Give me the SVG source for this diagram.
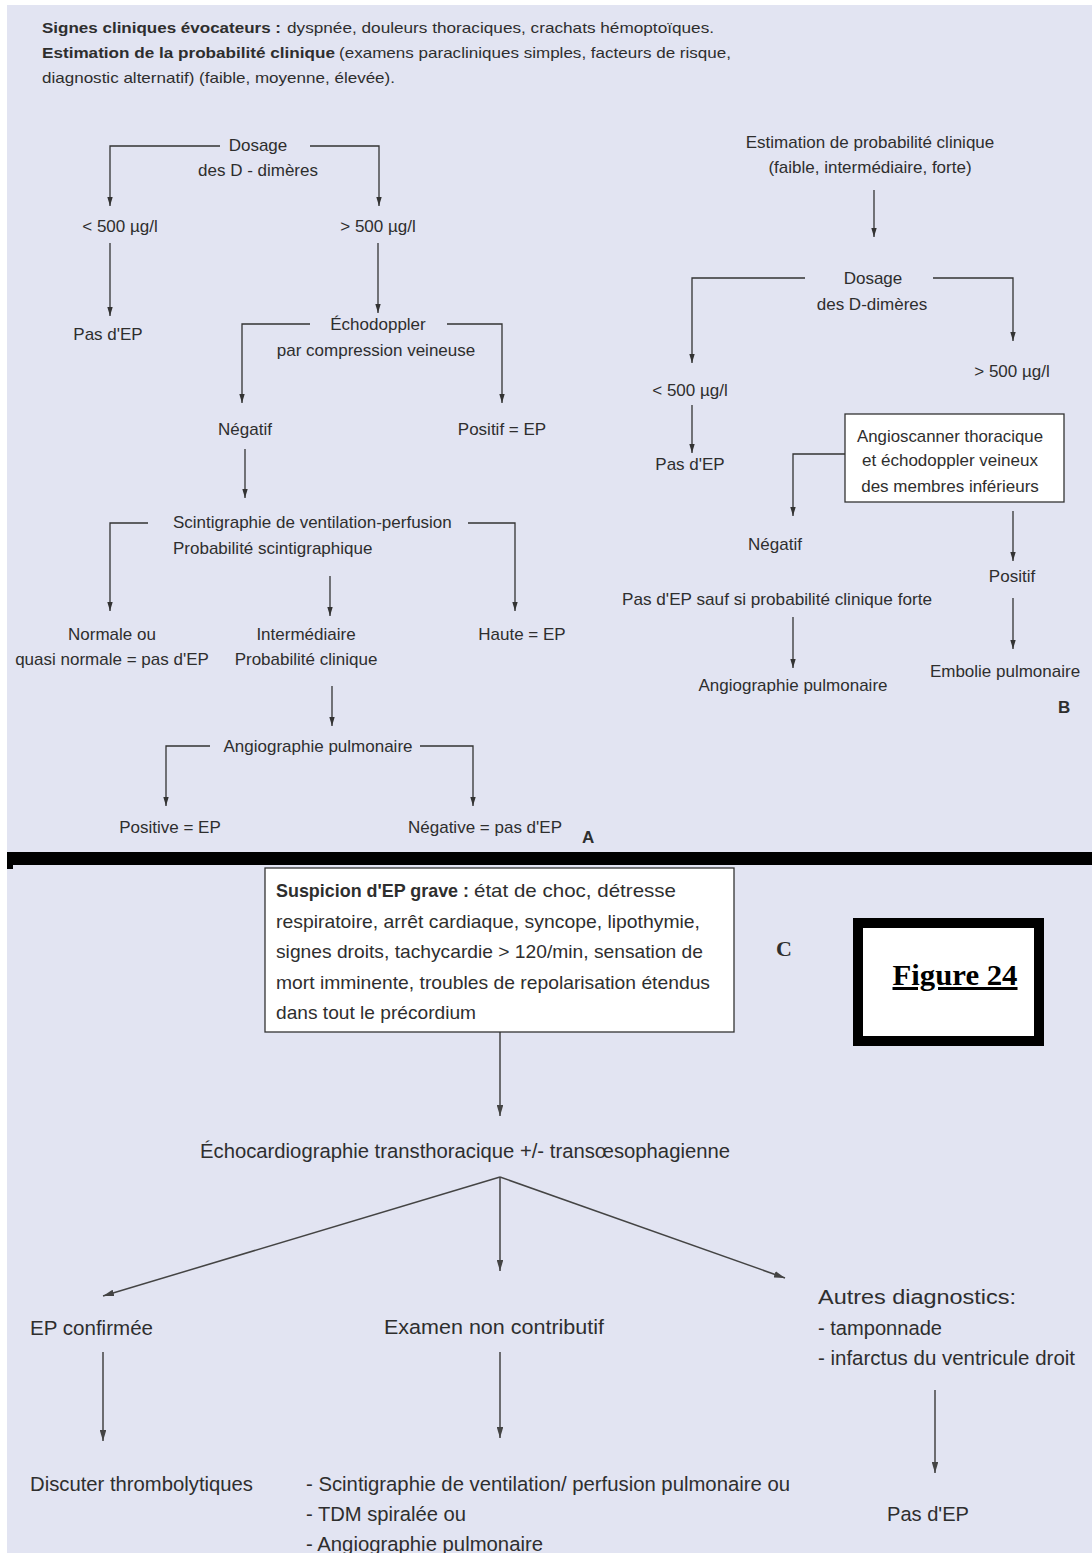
<svg xmlns="http://www.w3.org/2000/svg" width="1092" height="1553" viewBox="0 0 1092 1553">
<defs>
<marker id="ah" viewBox="0 0 10 6" refX="10" refY="3" markerWidth="9" markerHeight="5.4" orient="auto" markerUnits="userSpaceOnUse">
<path d="M0,0 L10,3 L0,6 z" fill="#333"/>
</marker>
<marker id="ah2" viewBox="0 0 10 6" refX="10" refY="3" markerWidth="11" markerHeight="6.6" orient="auto" markerUnits="userSpaceOnUse">
<path d="M0,0 L10,3 L0,6 z" fill="#444"/>
</marker>
</defs>
<style>
text{font-family:"Liberation Sans",Arial,sans-serif;fill:#2e2e2e}
.i{font-size:15px}
.t{font-size:17px}
.tc{font-size:17px;text-anchor:middle}
.b{font-weight:bold}
.c{font-size:19px}
.cb{font-size:20.5px}
.cm{font-size:20.5px;text-anchor:middle}
.ln{fill:none;stroke:#333;stroke-width:1.3}
.la{fill:none;stroke:#333;stroke-width:1.3;marker-end:url(#ah)}
.lc{fill:none;stroke:#444;stroke-width:1.5;marker-end:url(#ah2)}
</style>
<rect x="0" y="0" width="1092" height="1553" fill="#ffffff"/>
<rect x="7" y="5" width="1085" height="1548" fill="#e2e4f2"/>

<g id="intro">
<text class="i b" x="42" y="33" textLength="239" lengthAdjust="spacingAndGlyphs">Signes cliniques évocateurs :</text>
<text class="i" x="287" y="33" textLength="427" lengthAdjust="spacingAndGlyphs">dyspnée, douleurs  thoraciques, crachats hémoptoïques.</text>
<text class="i b" x="42" y="58" textLength="293" lengthAdjust="spacingAndGlyphs">Estimation de la probabilité clinique</text>
<text class="i" x="339" y="58" textLength="392" lengthAdjust="spacingAndGlyphs">(examens paracliniques simples, facteurs de risque,</text>
<text class="i" x="42" y="83" textLength="353" lengthAdjust="spacingAndGlyphs">diagnostic alternatif) (faible, moyenne, élevée).</text>
</g>

<g id="connectors">
<!-- Panel A -->
<path class="la" d="M220,146 H110 V206"/>
<path class="la" d="M310,146 H379 V206"/>
<path class="la" d="M110,243 V316"/>
<path class="la" d="M378,243 V313"/>
<path class="la" d="M310,324 H242 V403"/>
<path class="la" d="M447,324 H502 V403"/>
<path class="la" d="M245,449 V498"/>
<path class="la" d="M148,523 H110 V611"/>
<path class="la" d="M468,523 H515 V611"/>
<path class="la" d="M330,576 V616"/>
<path class="la" d="M332,686 V726"/>
<path class="la" d="M210,746 H166 V806"/>
<path class="la" d="M420,746 H473 V806"/>
<!-- Panel B -->
<path class="la" d="M874,190 V237"/>
<path class="la" d="M805,278 H692 V363"/>
<path class="la" d="M933,278 H1013 V341"/>
<path class="la" d="M692,405 V453"/>
<path class="la" d="M845,454 H793 V516"/>
<path class="la" d="M1013,511 V561"/>
<path class="la" d="M793,617 V668"/>
<path class="la" d="M1013,598 V649"/>
<!-- Panel C -->
<path class="lc" d="M500,1032 V1116"/>
<path class="lc" d="M500,1177 L103,1296"/>
<path class="lc" d="M500,1177 V1271"/>
<path class="lc" d="M500,1177 L785,1278"/>
<path class="lc" d="M103,1352 V1441"/>
<path class="lc" d="M500,1352 V1438"/>
<path class="lc" d="M935,1390 V1473"/>
</g>

<!-- Panel A nodes -->
<g id="a-dosage"><text class="tc" x="258" y="151">Dosage</text><text class="tc" x="258" y="176">des D - dimères</text></g>
<g id="a-lt500"><text class="tc" x="120" y="232">&lt; 500 µg/l</text></g>
<g id="a-gt500"><text class="tc" x="378" y="232">&gt; 500 µg/l</text></g>
<g id="a-pasep"><text class="tc" x="108" y="340">Pas d'EP</text></g>
<g id="a-echo"><text class="tc" x="378" y="330">Échodoppler</text><text class="tc" x="376" y="356">par compression veineuse</text></g>
<g id="a-negatif"><text class="tc" x="245" y="435">Négatif</text></g>
<g id="a-positif"><text class="tc" x="502" y="435">Positif = EP</text></g>
<g id="a-scinti"><text class="t" x="173" y="528">Scintigraphie de ventilation-perfusion</text><text class="t" x="173" y="554">Probabilité scintigraphique</text></g>
<g id="a-normale"><text class="tc" x="112" y="640">Normale ou</text><text class="tc" x="112" y="665">quasi normale = pas d'EP</text></g>
<g id="a-inter"><text class="tc" x="306" y="640">Intermédiaire</text><text class="tc" x="306" y="665">Probabilité clinique</text></g>
<g id="a-haute"><text class="tc" x="522" y="640">Haute = EP</text></g>
<g id="a-angio"><text class="tc" x="318" y="752">Angiographie pulmonaire</text></g>
<g id="a-positive"><text class="tc" x="170" y="833">Positive = EP</text></g>
<g id="a-negative"><text class="tc" x="485" y="833">Négative = pas d'EP</text></g>
<g id="label-a"><text x="582" y="843" font-size="17" font-weight="bold">A</text></g>

<!-- Panel B nodes -->
<g id="b-estim"><text class="tc" x="870" y="148">Estimation de probabilité clinique</text><text class="tc" x="870" y="173">(faible, intermédiaire, forte)</text></g>
<g id="b-dosage"><text class="tc" x="873" y="284">Dosage</text><text class="tc" x="872" y="310">des D-dimères</text></g>
<g id="b-lt500"><text class="tc" x="690" y="396">&lt; 500 µg/l</text></g>
<g id="b-gt500"><text class="tc" x="1012" y="377">&gt; 500 µg/l</text></g>
<g id="b-pasep"><text class="tc" x="690" y="470">Pas d'EP</text></g>
<g id="b-angioscan"><rect x="845" y="414" width="219" height="88" fill="#ffffff" stroke="#333" stroke-width="1.3"/>
<text class="tc" x="950" y="442" textLength="186" lengthAdjust="spacingAndGlyphs">Angioscanner thoracique</text><text class="tc" x="950" y="466">et échodoppler veineux</text><text class="tc" x="950" y="492">des membres inférieurs</text></g>
<g id="b-negatif"><text class="tc" x="775" y="550">Négatif</text></g>
<g id="b-pasepsauf"><text class="tc" x="777" y="605" textLength="310" lengthAdjust="spacingAndGlyphs">Pas d'EP sauf si probabilité clinique forte</text></g>
<g id="b-positif"><text class="tc" x="1012" y="582">Positif</text></g>
<g id="b-angio"><text class="tc" x="793" y="691">Angiographie pulmonaire</text></g>
<g id="b-embolie"><text class="tc" x="1005" y="677">Embolie pulmonaire</text></g>
<g id="label-b"><text x="1058" y="713" font-size="17" font-weight="bold">B</text></g>

<!-- separator -->
<rect x="7" y="852" width="1085" height="13" fill="#000"/>
<rect x="7" y="865" width="6" height="4" fill="#000"/>

<!-- Panel C nodes -->
<g id="c-suspicion"><rect x="265" y="868" width="469" height="164" fill="#ffffff" stroke="#333" stroke-width="1.3"/>
<text class="c b" x="276" y="897" textLength="193" lengthAdjust="spacingAndGlyphs">Suspicion d'EP grave :</text>
<text class="c" x="474" y="897" textLength="202" lengthAdjust="spacingAndGlyphs">état de choc, détresse</text>
<text class="c" x="276" y="928" textLength="424" lengthAdjust="spacingAndGlyphs">respiratoire,  arrêt cardiaque, syncope, lipothymie,</text>
<text class="c" x="276" y="958" textLength="427" lengthAdjust="spacingAndGlyphs">signes droits, tachycardie &gt; 120/min, sensation de</text>
<text class="c" x="276" y="989" textLength="434" lengthAdjust="spacingAndGlyphs">mort imminente, troubles de repolarisation étendus</text>
<text class="c" x="276" y="1019" textLength="200" lengthAdjust="spacingAndGlyphs">dans tout le précordium</text></g>
<g id="label-c"><text x="776" y="956" font-size="22" font-weight="bold" style="font-family:'Liberation Serif',serif">C</text></g>
<g id="figure-label"><rect x="858" y="923" width="181" height="118" fill="#ffffff" stroke="#000" stroke-width="10"/>
<text x="955" y="985" text-anchor="middle" font-size="30" font-weight="bold" text-decoration="underline" style="font-family:'Liberation Serif',serif;fill:#000" textLength="125" lengthAdjust="spacingAndGlyphs">Figure 24</text></g>
<g id="c-echo"><text class="cm" x="465" y="1158" textLength="530" lengthAdjust="spacingAndGlyphs">Échocardiographie transthoracique +/- transœsophagienne</text></g>
<g id="c-epconf"><text class="cb" x="30" y="1335" textLength="123" lengthAdjust="spacingAndGlyphs">EP confirmée</text></g>
<g id="c-examen"><text class="cb" x="384" y="1334" textLength="220" lengthAdjust="spacingAndGlyphs">Examen non contributif</text></g>
<g id="c-autres"><text class="cb" x="818" y="1304" textLength="198" lengthAdjust="spacingAndGlyphs">Autres diagnostics:</text><text class="cb" x="818" y="1335" textLength="124" lengthAdjust="spacingAndGlyphs">- tamponnade</text><text class="cb" x="818" y="1365" textLength="257" lengthAdjust="spacingAndGlyphs">- infarctus du ventricule droit</text></g>
<g id="c-discuter"><text class="cb" x="30" y="1491" textLength="223" lengthAdjust="spacingAndGlyphs">Discuter thrombolytiques</text></g>
<g id="c-scinti"><text class="cb" x="306" y="1491" textLength="484" lengthAdjust="spacingAndGlyphs">- Scintigraphie de ventilation/ perfusion pulmonaire ou</text><text class="cb" x="306" y="1521" textLength="160" lengthAdjust="spacingAndGlyphs">- TDM spiralée ou</text><text class="cb" x="306" y="1551" textLength="237" lengthAdjust="spacingAndGlyphs">- Angiographie pulmonaire</text></g>
<g id="c-pasep"><text class="cm" x="928" y="1521" textLength="82" lengthAdjust="spacingAndGlyphs">Pas d'EP</text></g>
</svg>
